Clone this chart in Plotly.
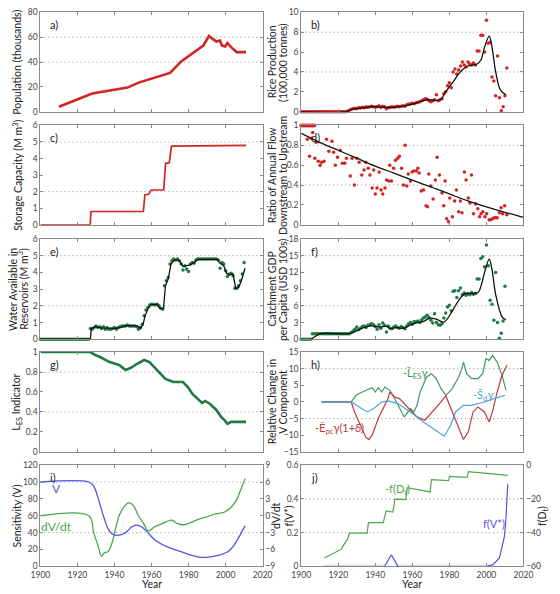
import plotly.graph_objects as go

# ---------------- data ----------------
# a) population (thousands)
pop_year = [1910, 1928, 1947, 1953, 1970, 1976, 1988, 1989, 1991, 1993, 1995, 1997, 1998, 1999.7, 2001, 2003.5, 2006, 2011]
pop_val = [4.0, 14.6, 19.4, 23.4, 31.2, 40.5, 53.3, 56.0, 61.0, 58.6, 56.5, 57.3, 53.3, 52.5, 55.2, 51.2, 48.0, 48.0]

# b) rice production (100,000 tonnes)
rice_year = list(range(1900, 2012))
rice_obs = [0]*25 + [0.05, 0.15, 0.25, 0.3, 0.35, 0.3, 0.4, 0.38, 0.45, 0.4, 0.5, 0.45, 0.5, 0.55, 0.5,
                     0.45, 0.5, 0.6, 0.45, 0.55, 0.5, 0.3, 0.4, 0.45, 0.5, 0.45, 0.5, 0.55, 0.5, 0.55,
                     0.6, 0.55, 0.7, 0.75, 0.8, 0.85, 0.8, 0.9, 0.95, 1.0, 1.1, 1.2, 1.3, 1.25, 1.1,
                     1.0, 1.1, 1.2, 1.7, 1.1, 1.2, 1.3, 1.8, 2.0, 2.6, 2.9, 2.4, 4.0, 4.3, 3.8,
                     4.2, 4.6, 5.0, 4.7, 4.5, 5.0, 4.8, 4.7, 4.9, 4.7, 6.1, 6.1, 7.7, 7.7, 6.0,
                     9.2, 6.9, 7.0, 3.5, 3.1, 1.6, 5.6, 1.4, 0.1, 0.5, 1.6, 4.4]
rice_fit_year = [1900, 1924, 1928, 1932, 1940, 1947, 1955, 1961, 1964, 1968, 1975, 1978, 1982, 1985, 1987,
                 1990, 1995, 1997, 1999, 2001.5, 2003, 2005, 2007.5, 2010.5]
rice_fit = [0, 0, 0.25, 0.35, 0.5, 0.42, 0.55, 0.8, 1.0, 1.2, 1.2, 2.0, 3.0, 3.8, 4.2,
            4.6, 4.8, 5.2, 6.5, 7.6, 6.5, 4.0, 2.2, 1.7]

# c) storage capacity (M m3)
stor_year = [1900, 1926.9, 1927.3, 1955.6, 1956.4, 1958.6, 1959.8, 1966.6, 1967.6, 1969.6, 1970.8, 2011]
stor_val = [0, 0, 0.8, 0.8, 1.8, 1.85, 2.1, 2.1, 3.7, 3.75, 4.75, 4.8]

# d) ratio of annual flow downstream to upstream
ratio_top_year = [1900, 1901, 1902, 1903, 1904, 1905, 1906, 1907]
ratio_top_val = [1, 1, 1, 1, 1, 1, 1, 1]
ratio_year = [1903.3, 1904.5, 1905.4, 1906.2, 1907.4, 1908, 1909.2, 1910.2, 1911, 1912.3, 1913.7, 1914.9,
              1916.6, 1917.5, 1918.4, 1919.6, 1921, 1922.2, 1923.5, 1924.4, 1926.5, 1927.5, 1928.7, 1930,
              1931.3, 1932.7, 1933.9, 1934.8, 1936.2, 1937.1, 1938.3, 1939.1, 1940, 1940.9, 1942.1, 1943.1,
              1944, 1945.2, 1946.1, 1947.3, 1948.7, 1947.8, 1949.9, 1950.9, 1952.1, 1953, 1954.2, 1955.2,
              1956.1, 1957, 1957.8, 1959, 1959.9, 1960.8, 1962.2, 1963, 1963.7, 1964.8, 1966, 1967.4,
              1968.2, 1968.9, 1970, 1971.2, 1972.4, 1973.4, 1974.6, 1976, 1976.9, 1977.7, 1978.6, 1979.5,
              1980.2, 1981.6, 1982.8, 1983.8, 1985, 1985.9, 1986.8, 1988.1, 1989, 1990.2, 1991.1, 1991.9,
              1993, 1994.2, 1995.4, 1996.3, 1997.1, 1998, 1999.2, 2000.1, 2001.5, 2002.3, 2003.2, 2004.1,
              2004.9, 2005.8, 2007, 2007.9, 2008.7, 2009.8, 2011]
ratio_val = [0.86, 0.69, 0.87, 0.93, 0.67, 0.83, 0.64, 0.60, 0.63, 0.64, 0.86, 0.74,
             0.84, 0.73, 0.60, 0.68, 0.75, 0.62, 0.62, 0.67, 0.49, 0.67, 0.40, 0.67,
             0.63, 0.50, 0.55, 0.63, 0.57, 0.50, 0.37, 0.55, 0.31, 0.37, 0.53, 0.35,
             0.31, 0.37, 0.45, 0.44, 0.44, 0.60, 0.57, 0.65, 0.67, 0.69, 0.57, 0.40,
             0.80, 0.39, 0.51, 0.44, 0.53, 0.54, 0.54, 0.57, 0.52, 0.34, 0.35, 0.19,
             0.18, 0.51, 0.39, 0.26, 0.45, 0.68, 0.50, 0.32, 0.19, 0.44, 0.06, 0.03,
             0.27, 0.08, 0.24, 0.35, 0.13, 0.24, 0.12, 0.53, 0.45, 0.27, 0.22, 0.50,
             0.11, 0.21, 0.16, 0.08, 0.11, 0.13, 0.08, 0.11, 0.05, 0.05, 0.06, 0.07,
             0.07, 0.07, 0.12, 0.17, 0.11, 0.19, 0.10]
ratio_fit_year = [1900, 1910, 1920, 1930, 1940, 1950, 1960, 1970, 1980, 1990, 2000, 2010, 2020]
ratio_fit = [0.92, 0.83, 0.75, 0.67, 0.59, 0.52, 0.45, 0.38, 0.31, 0.24, 0.18, 0.125, 0.075]

# e) water available in reservoirs (M m3)
water_year = list(range(1900, 2011))
water_obs = [0]*27 + [0.65, 0.6, 0.7, 0.8, 0.7, 0.75, 0.65, 0.75, 0.6, 0.7, 0.6, 0.6, 0.65, 0.7, 0.6, 0.7,
                      0.75, 0.8, 0.8, 0.8, 0.85, 0.8, 0.8, 0.8, 0.8, 0.75, 0.6, 0.7, 0.9, 1.4, 1.75, 1.9,
                      2.05, 2.1, 2.1, 2.05, 2.1, 2.0, 1.85, 1.8, 3.2, 3.5, 3.7, 4.5, 4.7, 4.8, 4.75, 4.8,
                      4.7, 4.5, 4.15, 4.4, 4.2, 4.05, 4.5, 4.6, 4.55, 4.75, 4.8, 4.8, 4.8, 4.8, 4.8, 4.8,
                      4.8, 4.8, 4.8, 4.8, 4.8, 4.75, 4.25, 4.6, 4.5, 4.1, 3.75, 3.9, 3.95, 3.8, 3.05,
                      3.05, 3.2, 3.5, 3.9, 4.6]
water_fit_year = [1900, 1927, 1927.5, 1930, 1933, 1936, 1940, 1943, 1946, 1950, 1952.5, 1954, 1955.5, 1956.5,
                  1958, 1959.5, 1963, 1964.5, 1966.5, 1967.5, 1969, 1970.5, 1972.5, 1975, 1977, 1979, 1981,
                  1983, 1985, 1995.5, 1997, 1999, 2000.5, 2002, 2004, 2005.5, 2007, 2008.5, 2010.5]
water_fit = [0, 0, 0.65, 0.75, 0.68, 0.65, 0.65, 0.7, 0.8, 0.82, 0.8, 0.65, 0.9, 1.4,
             1.8, 2.05, 2.1, 1.85, 1.85, 3.2, 3.6, 4.5, 4.75, 4.7, 4.35, 4.4, 4.45,
             4.6, 4.78, 4.78, 4.55, 4.4, 3.95, 3.85, 3.9, 3.05, 3.1, 3.5, 4.25]

# f) catchment GDP per capita (USD 100s)
gdp_year = list(range(1900, 2011))
gdp_obs = [0]*6 + [1.0]*21 + [1.2, 1.5, 1.8, 2.2, 1.7, 2.0, 2.3, 2.4, 2.1, 2.5, 2.6, 2.8, 2.6, 2.3, 1.8,
                             2.6, 2.0, 2.9, 2.5, 1.3, 2.4, 2.0, 1.9, 2.2, 2.4, 2.1, 2.0, 2.3, 2.1, 1.9,
                             2.4, 2.8, 3.0, 2.7, 3.2, 3.1, 3.3, 3.0, 3.5, 3.8, 4.0, 4.3, 3.9, 3.4, 2.9,
                             4.6, 3.0, 2.6, 2.5, 2.8, 3.8, 4.7, 5.8, 6.1, 5.1, 8.6, 8.7, 7.5, 8.7, 9.2,
                             8.0, 8.3, 7.9, 8.2, 8.0, 8.4, 8.1, 8.2, 10.8, 10.8, 14.5, 14.8, 13.0, 16.9,
                             13.2, 7.0, 6.3, 3.4, 12.0, 3.0, 0.2, 1.1, 3.3, 9.5]
gdp_fit_year = [1900, 1905, 1910.5, 1926, 1933, 1938, 1942, 1946, 1948, 1951, 1955.5, 1959, 1962.5, 1966,
                1969.5, 1973, 1977, 1981.5, 1985, 1988.5, 1992, 1995.5, 1997, 1999, 2001.5, 2003, 2005,
                2008.5, 2010.5]
gdp_fit = [0, 0, 1.0, 1.0, 2.0, 2.4, 2.2, 2.3, 1.9, 2.1, 2.0, 2.6, 3.0, 3.2,
           3.8, 3.6, 3.1, 5.0, 7.0, 8.2, 8.2, 8.4, 9.5, 12.0, 14.4, 12.5, 8.0, 4.0, 3.5]

# g) L_ES indicator
les_year = [1900, 1927, 1929.6, 1932.2, 1937.4, 1942.5, 1946, 1948.6, 1952, 1956, 1958.9, 1963.2, 1967.5,
            1971.8, 1977, 1979.6, 1982.1, 1985.6, 1987.3, 1989, 1991.6, 1995, 1997.6, 1999.3, 2001, 2003,
            2011]
les_val = [1.0, 1.0, 0.97, 0.95, 0.9, 0.87, 0.82, 0.84, 0.88, 0.92, 0.9, 0.82, 0.73,
           0.7, 0.7, 0.65, 0.58, 0.52, 0.49, 0.51, 0.48, 0.42, 0.35, 0.32, 0.28, 0.3, 0.3]

# h) relative change in V component
hl_year = [1911, 1927, 1929.6, 1933, 1938.3, 1940, 1941.6, 1943.5, 1945.2, 1947.8, 1949.5, 1951.3, 1953,
           1955.6, 1959, 1960.8, 1962.5, 1964.2, 1967.7, 1970.3, 1972.9, 1975.5, 1978.1, 1981.6, 1985,
           1986.7, 1987.6, 1989.3, 1992, 1995.4, 1998, 1999.7, 2001.5, 2003.2, 2005.8, 2008.4, 2010.6]
hl_val = [0, 0, 2, 3, 4.3, 3, 4.3, 3, 4.5, 3.5, 2, 0, -2,
          -4.5, -2, -3, -1, 3, 7.5, 8.5, 7, 4, 2, 4, 7.5,
          10, 12, 8.5, 7, 7, 8.5, 13, 12.5, 14, 12, 8, 3.5]
he_year = [1911, 1927, 1928.8, 1932.2, 1934.8, 1936.5, 1938.3, 1941.6, 1944.2, 1946.9, 1947.8, 1950.4,
           1953, 1956.5, 1959, 1962.5, 1966.8, 1971, 1975.5, 1978.1, 1981.6, 1985, 1987.6, 1990.2,
           1992.8, 1995.4, 1998.9, 2001.5, 2003.2, 2005.8, 2008.4, 2011]
he_val = [0, 0, -3, -7.5, -10.5, -11.3, -10, -5, -2, 1, 3, 1.5,
          1, -1, -2.5, -4.5, -5.5, -3, 0, 1.8, -3, -8, -11.3, -9,
          -3, -1.5, -3, -6, -3, 3, 8, 11]
hs_year = [1911, 1927, 1931.3, 1935.7, 1939.1, 1943.5, 1946.9, 1952.1, 1959, 1966, 1977.2, 1980.7,
           1983.3, 1987.6, 1992, 1998.9, 2004, 2010]
hs_val = [0, 0, -1.5, -3, -2, 0, 0.3, -0.5, -3, -6, -10.3, -7,
          -3, -1, -1, 0, 1, 2]

# i) sensitivity V and dV/dt
v_year = [1900, 1926.2, 1928.8, 1931.3, 1934, 1936.5, 1939, 1942.5, 1946, 1949.4, 1952, 1954.6, 1958,
          1961.5, 1965.8, 1970, 1975.2, 1980.4, 1985.6, 1990.7, 1995.9, 2001, 2004.5, 2008, 2010.5]
v_val = [100, 100, 95, 80, 60, 45, 38, 37, 40, 47, 49, 47, 40,
         32, 26, 22, 18, 14, 11, 11, 13, 17, 25, 38, 48]
dv_year = [1900, 1926.2, 1928.8, 1931.3, 1933, 1934.5, 1936.5, 1939, 1940.8, 1942.5, 1945, 1947.7, 1950.3,
           1952.9, 1956, 1958, 1961.5, 1965, 1968.4, 1971, 1974, 1977, 1980.4, 1985.6, 1989, 1994, 1999,
           2001, 2003, 2006.2, 2008, 2010.5]
dv_val = [0, 0, -3, -5.5, -7.2, -6.6, -6.4, -4.5, -2, 0, 1.5, 2.3, 1.8,
          0, -1.5, -2.7, -2, -1.5, -1, -0.8, -1.4, -1.6, -1.3, -0.6, -0.3, 0.3, 0.6,
          1.0, 1.5, 3, 4.5, 6.6]

# j) f(V*) and -f(D_t)
fv_year = [1912, 1945, 1948.7, 1952.2, 2000, 2003.5, 2007, 2009.6, 2010.4, 2011.5]
fv_val = [0, 0, 0.069, 0, 0, 0.01, 0.05, 0.17, 0.26, 0.49]
fd_year = [1912.5, 1917, 1921.7, 1922.5, 1924.3, 1925, 1926, 1935.6, 1936.3, 1944.3, 1945.8, 1949.5, 1950.6,
           1956.5, 1957.2, 1969.6, 1970.3, 1979.5, 1980.1, 1989.6, 1990.3, 2011.5]
fd_val = [-55, -52.5, -49.8, -48, -45, -44, -40.3, -40.3, -34.1, -34.1, -27.2, -27.8, -20.1,
          -20.5, -13.4, -15.9, -8.6, -9.2, -6.7, -7.3, -3.8, -6.1]

year_ticks = [1900, 1920, 1940, 1960, 1980, 2000, 2020]

# ---------------- styling ----------------
W, H = 560, 594
FONT = "Lato"
RED = "#d42323"
DGREEN = "#1f7a45"
LGREEN = "#4aa84a"
BLUE = "#5353e6"
HGREEN = "#3c9a5f"
HRED = "#c0393b"
HBLUE = "#4da3d4"
FRAME = "#8a8a8a"
TICKC = "#444444"
TSIZE = 10.5

LX = [31.5 / W, 262 / W]
RX = [302 / W, 532.5 / W]
rows = [(7.5, 108.5), (122.5, 223.5), (238, 340), (353, 454.5), (468, 571)]


def ydom(r):
    t, b = rows[r]
    return [1 - b / H, 1 - t / H]


fig = go.Figure()


def add(k, x, y, **kw):
    fig.add_trace(go.Scatter(x=x, y=y, xaxis=f"x{k}", yaxis=f"y{k}", showlegend=False,
                             hoverinfo="skip", **kw))


# a
add(1, pop_year, pop_val, mode="lines", line=dict(color=RED, width=2.6))
# b
add(2, rice_year, rice_obs, mode="markers", marker=dict(color=RED, size=3.5), cliponaxis=False)
add(2, rice_fit_year, rice_fit, mode="lines", line=dict(color="#111111", width=1.3, shape="spline"))
# c
add(3, stor_year, stor_val, mode="lines", line=dict(color=RED, width=1.7))
# d
add(4, ratio_top_year, ratio_top_val, mode="markers", marker=dict(color=RED, size=4), cliponaxis=False)
add(4, ratio_year, ratio_val, mode="markers", marker=dict(color=RED, size=3.5), cliponaxis=False)
add(4, ratio_fit_year, ratio_fit, mode="lines", line=dict(color="#111111", width=1.3, shape="spline"),
    cliponaxis=False)
# e
add(5, water_year, water_obs, mode="markers", marker=dict(color=DGREEN, size=3.5), cliponaxis=False)
add(5, water_fit_year, water_fit, mode="lines", line=dict(color="#111111", width=1.3))
# f
add(6, gdp_year, gdp_obs, mode="markers", marker=dict(color=DGREEN, size=3.5), cliponaxis=False)
add(6, gdp_fit_year, gdp_fit, mode="lines", line=dict(color="#111111", width=1.3, shape="spline"))
# g
add(7, les_year, les_val, mode="lines", line=dict(color=DGREEN, width=2.6))
# h
add(8, hl_year, hl_val, mode="lines", line=dict(color=HGREEN, width=1.2))
add(8, he_year, he_val, mode="lines", line=dict(color=HRED, width=1.2))
add(8, hs_year, hs_val, mode="lines", line=dict(color=HBLUE, width=1.2))
# i
add(9, v_year, v_val, mode="lines", line=dict(color=BLUE, width=1.3, shape="spline"))
fig.add_trace(go.Scatter(x=dv_year, y=dv_val, xaxis="x9", yaxis="y11", mode="lines", showlegend=False,
                         hoverinfo="skip", line=dict(color=LGREEN, width=1.3, shape="spline")))
# j
add(10, fv_year, fv_val, mode="lines", line=dict(color=BLUE, width=1.2))
fig.add_trace(go.Scatter(x=fd_year, y=fd_val, xaxis="x10", yaxis="y12", mode="lines", showlegend=False,
                         hoverinfo="skip", line=dict(color=LGREEN, width=1.2)))

tickfont = dict(family=FONT, size=8.5, color=TICKC)
layout = dict(width=W, height=H, margin=dict(l=0, r=0, t=0, b=0), paper_bgcolor="white",
              plot_bgcolor="white", font=dict(family=FONT, color="#222"))

yranges = {1: ([0, 80], 20), 2: ([0, 10], 2), 3: ([0, 6], 1), 4: ([0, 1], 0.2), 5: ([0, 6], 1),
           6: ([0, 18], 3), 7: ([0, 1], 0.2), 8: ([-15, 15], 5), 9: ([0, 120], 20), 10: ([0, 0.6], 0.2)}

for k in range(1, 11):
    col = LX if k % 2 == 1 else RX
    r = (k - 1) // 2
    sfx = "" if k == 1 else str(k)
    layout["xaxis" + sfx] = dict(domain=col, anchor=f"y{k}", range=[1900, 2020], tickvals=year_ticks,
                                 showticklabels=(k >= 9), ticks="inside", ticklen=3, tickcolor=FRAME,
                                 showline=True, linecolor=FRAME, linewidth=1, mirror="ticks",
                                 showgrid=False, zeroline=False, tickfont=tickfont)
    rng, dt = yranges[k]
    layout["yaxis" + sfx] = dict(domain=ydom(r), anchor=f"x{k}", range=rng, dtick=dt, tick0=rng[0],
                                 ticks="inside", ticklen=3, tickcolor=FRAME, showline=True,
                                 linecolor=FRAME, linewidth=1, mirror=("ticks" if k < 9 else True),
                                 showgrid=False, zeroline=False, tickfont=tickfont)
layout["yaxis4"]["tickvals"] = [0, 0.2, 0.4, 0.6, 0.8, 1]
layout["yaxis4"]["ticktext"] = ["0", "0.2", "0.4", "0.6", "0.8", "1"]
layout["yaxis7"]["tickvals"] = [0, 0.2, 0.4, 0.6, 0.8, 1]
layout["yaxis7"]["ticktext"] = ["0", "0.2", "0.4", "0.6", "0.8", "1"]
layout["yaxis10"]["tickvals"] = [0, 0.2, 0.4, 0.6]
layout["yaxis10"]["ticktext"] = ["0", "0.2", "0.4", "0.6"]
layout["yaxis11"] = dict(overlaying="y9", anchor="x9", side="right", range=[-9, 9], dtick=3, tick0=-9,
                         ticks="inside", ticklen=3, tickcolor=FRAME, showline=True, linecolor=FRAME,
                         showgrid=False, zeroline=False, tickfont=tickfont)
layout["yaxis12"] = dict(overlaying="y10", anchor="x10", side="right", range=[-60, 0], dtick=20,
                         tick0=-60, ticks="inside", ticklen=3, tickcolor=FRAME, showline=True,
                         linecolor=FRAME, showgrid=False, zeroline=False, tickfont=tickfont)

# dotted reference lines
grid = {1: [60, 40], 2: [8, 4], 3: [5, 2], 4: [0.8, 0.4], 5: [5, 2], 6: [15, 6], 7: [0.8, 0.4],
        8: [10, -5], 9: [100, 40], 10: [0.4, 0.2]}
shapes = []
for k, vals in grid.items():
    sfx = "" if k == 1 else str(k)
    for v in vals:
        shapes.append(dict(type="line", xref=f"x{sfx} domain", yref=f"y{sfx}", x0=0, x1=1, y0=v, y1=v,
                           line=dict(color="#8a8a8a", width=1, dash="1px,3px"), layer="below"))
layout["shapes"] = shapes

ann = []
letters = "abcdefghij"
for k in range(1, 11):
    sfx = "" if k == 1 else str(k)
    ann.append(dict(text=letters[k - 1] + ")", xref=f"x{sfx} domain", yref=f"y{sfx} domain", x=0.035,
                    y=0.96, xanchor="left", yanchor="top", showarrow=False,
                    font=dict(family=FONT, size=11, color="#222")))


def ytitle(text, xpx, ypx, size=TSIZE, angle=-90, color="#222"):
    ann.append(dict(text=text, xref="paper", yref="paper", x=xpx / W, y=1 - ypx / H, xanchor="center",
                    yanchor="middle", showarrow=False, textangle=angle,
                    font=dict(family=FONT, size=size, color=color)))


def rmid(r):
    return (rows[r][0] + rows[r][1]) / 2


ytitle("Population (thousands)", 7, rmid(0))
ytitle("Rice Production", 272, rmid(0))
ytitle("(100,000 tonnes)", 283, rmid(0))
ytitle("Storage Capacity (M m<sup>3</sup>)", 7, rmid(1))
ytitle("Ratio of Annual Flow", 272, rmid(1))
ytitle("Downstream to Upstream", 283, rmid(1))
ytitle("Water Available in", 3, rmid(2))
ytitle("Reservoirs (M m<sup>3</sup>)", 13, rmid(2))
ytitle("Catchment GDP", 272, rmid(2))
ytitle("per Capita (USD 100s)", 283, rmid(2))
ytitle("L<sub>ES</sub> Indicator", 7, rmid(3))
ytitle("Relative Change in", 272, rmid(3))
ytitle("V Component", 283, rmid(3))
ytitle("Sensitivity (V)", 7, rmid(4))
ytitle("dV/dt", 276, rmid(4))
ytitle("f(V*)", 289, rmid(4))
ytitle("f(D<sub>t</sub>)", 552, rmid(4))
ytitle("Year", (LX[0] + LX[1]) / 2 * W, 589, angle=0, size=10.5)
ytitle("Year", (RX[0] + RX[1]) / 2 * W, 589, angle=0, size=10.5)

# in-plot labels
ytitle("-L\u0304<sub>ES</sub>\u03b3", 420, 375, size=11, angle=0, color=HGREEN)
ytitle("-S\u0304<sub>d</sub>\u03b3", 490, 397, size=11, angle=0, color=HBLUE)
ytitle("-E\u0304<sub>pc</sub>\u03b3(1+\u03b4)", 342, 431, size=11, angle=0, color=HRED)
ytitle("V", 48, 492, size=12, angle=0, color=BLUE)
ytitle("dV/dt", 48, 530, size=12, angle=0, color=LGREEN)
ytitle("-f(D<sub>t</sub>)", 402, 493, size=11, angle=0, color=LGREEN)
ytitle("f(V*)", 502, 527, size=11, angle=0, color=BLUE)

layout["annotations"] = ann
fig.update_layout(**layout)
fig.write_html("out.html")
